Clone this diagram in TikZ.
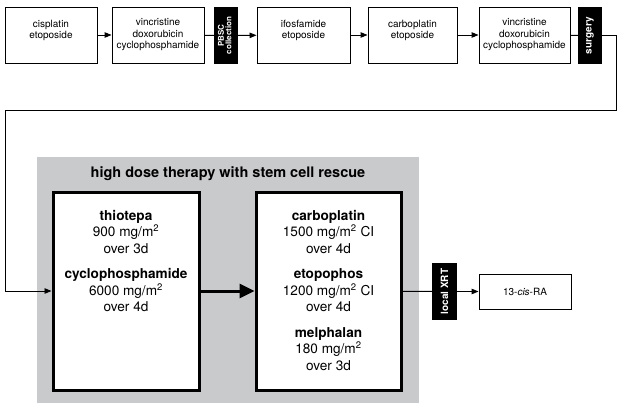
\documentclass[tikz,border=0pt]{standalone}
\usepackage{fontspec}
\setmainfont{TeX Gyre Heros}
\usetikzlibrary{arrows.meta}
\definecolor{panelgray}{RGB}{201,202,204}
\tikzset{
  drug/.style={draw=black, line width=0.9pt, fill=white, align=center, inner sep=0pt,
    minimum width=92pt, minimum height=56pt, font=\fontsize{10}{11.5}\selectfont},
  blk/.style={fill=black, text=white, inner sep=0pt, minimum width=24pt, minimum height=57pt,
    font=\bfseries\fontsize{10}{10.5}\selectfont},
  bigbox/.style={draw=black, line width=3pt, fill=white, minimum width=146pt, minimum height=198pt, inner sep=0pt},
  bigtext/.style={align=center, anchor=north, inner sep=0pt, font=\fontsize{13.6}{16.5}\selectfont},
  thin/.style={line width=0.9pt},
  arr/.style={line width=0.9pt, -{Triangle[length=7pt,width=5.5pt]}},
  bigarr/.style={line width=3pt, -{Triangle[length=15pt,width=14pt]}}
}
\begin{document}
\begin{tikzpicture}[x=1pt,y=-1pt]
\useasboundingbox (0,0) rectangle (624,409);
% top row
\node[drug] (b1) at (51,35) {cisplatin\\etoposide\\\mbox{}};
\node[drug] (b2) at (158,35) {vincristine\\doxorubicin\\cyclophosphamide};
\node[blk, font=\bfseries\fontsize{8}{8.5}\selectfont] (pbsc) at (226,35.5) {\rotatebox{90}{\begin{tabular}{@{}c@{}}PBSC\\[-1pt]collection\end{tabular}}};
\node[drug, minimum width=93pt] (b3) at (303.5,35) {ifosfamide\\etoposide\\\mbox{}};
\node[drug, minimum width=89pt] (b4) at (412.5,35) {carboplatin\\etoposide\\\mbox{}};
\node[drug, minimum width=91pt] (b5) at (524.5,35) {vincristine\\doxorubicin\\cyclophosphamide};
\node[blk] (surg) at (590,35.5) {\rotatebox{90}{surgery}};
% gray panel
\node[fill=panelgray, minimum width=382pt, minimum height=246pt, inner sep=0pt] (panel) at (228,280) {};
\node[font=\bfseries\fontsize{14.5}{17}\selectfont, inner sep=0pt] (title) at (228,174) {high dose therapy with stem cell rescue};
\node[bigbox] (L) at (126,291) {};
\node[bigbox, minimum width=145pt] (R) at (328.5,291) {};
\node[bigtext] (Lt) at (126,210) {\textbf{thiotepa}\\900 mg/m\textsuperscript{2}\\over 3d\\[9pt]\textbf{cyclophosphamide}\\6000 mg/m\textsuperscript{2}\\over 4d};
\node[bigtext] (Rt) at (328.5,210) {\textbf{carboplatin}\\1500 mg/m\textsuperscript{2} CI\\over 4d\\[9pt]\textbf{etopophos}\\1200 mg/m\textsuperscript{2} CI\\over 4d\\[9pt]\textbf{melphalan}\\180 mg/m\textsuperscript{2}\\over 3d};
% right side
\node[blk, minimum width=25pt] (xrt) at (444.5,291.5) {\rotatebox{90}{local XRT}};
\node[drug, minimum width=92pt, minimum height=35pt] (ra) at (525,291.5) {13-\textit{cis}-RA};
% connectors
\draw[arr] (b1) -- (b2);
\draw[thin] (b2) -- (pbsc);
\draw[arr] (pbsc) -- (b3);
\draw[arr] (b3) -- (b4);
\draw[arr] (b4) -- (b5);
\draw[thin] (b5) -- (surg);
\coordinate (c1) at (616,110);
\coordinate (c2) at (5,110);
\draw[arr] (surg.east) -| (c1) -- (c2) |- (L.west);
\draw[bigarr] (L) -- (R);
\draw[thin] (R) -- (xrt);
\draw[arr] (xrt) -- (ra);
\end{tikzpicture}
\end{document}
